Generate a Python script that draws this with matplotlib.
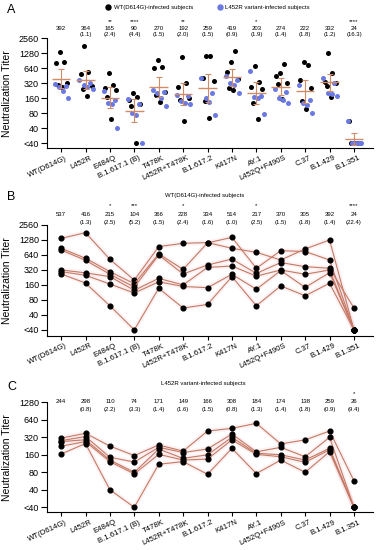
import matplotlib.pyplot as plt
from matplotlib.transforms import blended_transform_factory, ScaledTranslation
import numpy as np

plt.rcParams['font.family'] = ['Liberation Sans', 'DejaVu Sans']

variants = ['WT(D614G)', 'L452R', 'E484Q', 'B.1.617.1 (B)', 'T478K', 'L452R+T478K',
            'B.1.617.2', 'K417N', 'AY.1', 'L452Q+F490S', 'C.37', 'B.1.429', 'B.1.351']

# titers per subject, one row each (20 = below the <40 limit)
wt_subjects = [
    [1380, 1795, 523, 200, 943, 1097, 1135, 870, 724, 508, 845, 1280, 20],
    [870, 550, 296, 170, 672, 329, 1120, 1445, 346, 781, 750, 508, 20],
    [805, 500, 262, 145, 640, 266, 402, 530, 273, 450, 373, 346, 55],
    [320, 280, 235, 125, 217, 160, 360, 384, 240, 320, 262, 320, 20],
    [296, 250, 167, 110, 185, 149, 141, 262, 131, 311, 143, 282, 20],
    [266, 175, 61, 20, 137, 55, 65, 235, 61, 153, 97, 173, 20],
]
l452r_subjects = [
    [310, 375, 226, 155, 236, 185, 410, 456, 557, 246, 289, 410, 57],
    [280, 330, 145, 120, 215, 175, 201, 365, 180, 215, 148, 320, 20],
    [270, 290, 130, 80, 200, 139, 160, 320, 170, 160, 130, 207, 20],
    [225, 270, 122, 75, 163, 130, 135, 289, 163, 148, 119, 195, 20],
    [165, 250, 40, 20, 110, 122, 74, 207, 76, 130, 80, 181, 20],
]

a_means = [392, 364, 165, 90, 270, 192, 259, 419, 203, 274, 222, 332, 24]
a_folds = ['', '(1.1)', '(2.4)', '(4.4)', '(1.5)', '(2.0)', '(1.5)', '(0.9)', '(1.9)', '(1.4)', '(1.8)', '(1.2)', '(16.3)']
a_stars = ['', '', '**', '****', '', '**', '', '', '*', '', '', '', '****']
b_means = [537, 416, 215, 104, 366, 228, 334, 514, 217, 370, 305, 392, 24]
b_folds = ['', '(1.3)', '(2.5)', '(5.2)', '(1.5)', '(2.4)', '(1.6)', '(1.0)', '(2.5)', '(1.5)', '(1.8)', '(1.4)', '(22.4)']
b_stars = ['', '', '*', '***', '', '*', '', '', '*', '', '', '', '****']
c_means = [244, 298, 110, 74, 171, 149, 166, 308, 184, 174, 138, 259, 26]
c_folds = ['', '(0.8)', '(2.2)', '(3.3)', '(1.4)', '(1.6)', '(1.5)', '(0.8)', '(1.3)', '(1.4)', '(1.8)', '(0.9)', '(9.4)']
c_stars = ['', '', '', '', '', '', '', '', '', '', '', '', '*']

W, H = 378, 550
fig = plt.figure(figsize=(W / 100, H / 100), dpi=100)

def box(l, t, r, b):
    return [l / W, 1 - b / H, (r - l) / W, (b - t) / H]

line_col = '#c47a63'
blue = '#6b79e2'
x = np.arange(len(variants))

def style(ax, top, bottom):
    ax.set_yscale('log', base=2)
    ax.set_ylim(bottom, top)
    ax.set_xlim(-0.59, 12.78)
    ax.spines[['top', 'right']].set_visible(False)
    ticks = [20, 40, 80, 160, 320, 640, 1280, 2560]
    ticks = [t for t in ticks if t <= top]
    ax.set_yticks(ticks)
    ax.set_yticklabels(['<40'] + [str(t) for t in ticks[1:]], fontsize=6.5)
    ax.minorticks_off()
    ax.tick_params(axis='y', length=4, width=0.8, pad=1.5)
    ax.tick_params(axis='x', length=3, width=0.8, pad=1)
    ax.set_xticks(x)
    ax.set_xticklabels(variants, rotation=25, ha='right', va='top',
                       rotation_mode='anchor', fontsize=5.6)
    off = ScaledTranslation(4 / 100, -1 / 100, fig.dpi_scale_trans)
    for lab in ax.get_xticklabels():
        lab.set_transform(lab.get_transform() + off)
    ax.set_ylabel('Neutralization Titer', fontsize=7.5)
    ax.yaxis.set_label_coords(-0.105, 0.5)
    for s in ax.spines.values():
        s.set_linewidth(0.8)

def annotate(ax, means, folds, stars, y_star, y_mean, y_fold):
    tr = blended_transform_factory(ax.transData, fig.transFigure)
    for i in range(len(variants)):
        ax.text(i, 1 - y_mean / H, str(means[i]), transform=tr, ha='center', va='center', fontsize=4.3)
        if folds[i]:
            ax.text(i, 1 - y_fold / H, folds[i], transform=tr, ha='center', va='center', fontsize=4.3)
        if stars[i]:
            ax.text(i, 1 - y_star / H, stars[i], transform=tr, ha='center', va='center', fontsize=4.3)

# ---- panel A
axA = fig.add_axes(box(46.7, 38.3, 373, 148))
style(axA, 2560, 16.0)
black_off = [-0.05, 0.12, -0.2, 0.25, -0.12, 0.05]
blue_off = [-0.25, 0.2, -0.08, 0.08, 0.3]
for j, s in enumerate(wt_subjects):
    axA.scatter(x + black_off[j], s, s=13, color='black', zorder=3, linewidths=0)
for j, s in enumerate(l452r_subjects):
    axA.scatter(x + blue_off[j], s, s=13, color=blue, zorder=3, linewidths=0)
logs = np.log2(np.array(wt_subjects + l452r_subjects, float))
half = 2.228 * logs.std(axis=0, ddof=1) / np.sqrt(logs.shape[0])
m = np.array(a_means, float)
axA.errorbar(x, m, yerr=[m - m * 2 ** -half, m * 2 ** half - m], fmt='none',
             ecolor='#d08c68', elinewidth=0.8, capsize=2.5, capthick=0.8, zorder=4)
axA.hlines(m, x - 0.38, x + 0.38, color='#d08c68', lw=1.0, zorder=4)
annotate(axA, a_means, a_folds, a_stars, 21.5, 28.3, 34.3)
fig.text(7 / W, 1 - 10 / H, 'A', fontsize=9, va='center')
fig.lines.append(plt.Line2D([108.3 / W], [1 - 7.3 / H], marker='o', ms=3.6, color='black',
                            transform=fig.transFigure, figure=fig))
fig.text(114 / W, 1 - 7.3 / H, 'WT(D614G)-infected subjects', fontsize=4.3, va='center')
fig.lines.append(plt.Line2D([219.7 / W], [1 - 7.3 / H], marker='o', ms=3.6, color=blue,
                            transform=fig.transFigure, figure=fig))
fig.text(225 / W, 1 - 7.3 / H, 'L452R variant-infected subjects', fontsize=4.3, va='center')

# ---- panel B
axB = fig.add_axes(box(46.7, 225, 373, 335.7))
style(axB, 2560, 15.3)
for s in wt_subjects:
    axB.plot(x, s, color='#f7d9df', lw=3.5, alpha=0.35, zorder=1)
for s in wt_subjects:
    axB.plot(x, s, color=line_col, lw=0.8, marker='o', ms=3.4, mfc='black', mec='black', zorder=2)
annotate(axB, b_means, b_folds, b_stars, 206, 214, 222.7)
fig.text(7 / W, 1 - 197 / H, 'B', fontsize=9, va='center')
fig.text(205 / W, 1 - 195 / H, 'WT(D614G)-infected subjects', fontsize=4.3, ha='center', va='center')

# ---- panel C
axC = fig.add_axes(box(46.7, 402.3, 373, 512.3))
style(axC, 1280, 16.4)
for s in l452r_subjects:
    axC.plot(x, s, color='#f7d9df', lw=3.5, alpha=0.35, zorder=1)
for s in l452r_subjects:
    axC.plot(x, s, color=line_col, lw=0.8, marker='o', ms=3.4, mfc='black', mec='black', zorder=2)
annotate(axC, c_means, c_folds, c_stars, 394, 401.7, 410)
fig.text(7 / W, 1 - 386.7 / H, 'C', fontsize=9, va='center')
fig.text(203 / W, 1 - 384 / H, 'L452R variant-infected subjects', fontsize=4.3, ha='center', va='center')

fig.savefig('out.png', dpi=100)
